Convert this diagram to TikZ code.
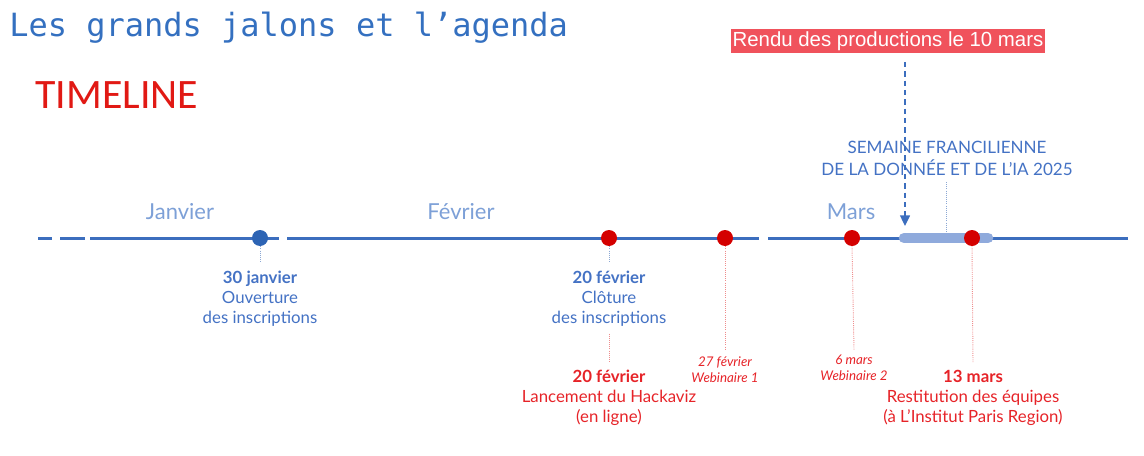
\documentclass[tikz,border=0pt]{standalone}
\usepackage{fontspec}
\setmainfont{Lato}
\newfontfamily\monofont{DejaVu Sans Mono}
\newfontfamily\calfont{Carlito}
\newfontfamily\arialfont{Liberation Sans}
\usetikzlibrary{arrows.meta}
\definecolor{titleblue}{RGB}{52,112,192}
\definecolor{tlred}{RGB}{225,25,20}
\definecolor{lblblue}{RGB}{68,114,196}
\definecolor{monthblue}{RGB}{125,160,215}
\definecolor{txtred}{RGB}{230,35,40}
\definecolor{dotred}{RGB}{212,0,0}
\definecolor{dotblue}{RGB}{45,100,180}
\definecolor{linblue}{RGB}{60,110,190}
\definecolor{barblue}{RGB}{143,170,220}
\definecolor{boxred}{RGB}{240,82,92}
\definecolor{dotlineblue}{RGB}{140,168,212}
\definecolor{dotlinered}{RGB}{238,140,140}
\begin{document}
\begin{tikzpicture}[x=0.75pt,y=-0.75pt,
  axis/.style={line width=2.25pt,color=linblue},
  reddot/.style={circle,fill=dotred,minimum size=12pt,inner sep=0pt},
  bluedot/.style={circle,fill=dotblue,minimum size=12pt,inner sep=0pt},
  month/.style={anchor=base,inner sep=0pt,text=monthblue,font=\fontsize{16.5}{20}\selectfont},
  bluelbl/.style={anchor=north,inner sep=0pt,align=center,text=lblblue,font=\fontsize{12.6}{15}\selectfont},
  redlbl/.style={anchor=north,inner sep=0pt,align=center,text=txtred,font=\fontsize{12.6}{15}\selectfont},
  smalllbl/.style={anchor=north,inner sep=0pt,align=center,text=txtred,font=\itshape\fontsize{10}{11.8}\selectfont},
  bluetick/.style={dotlineblue,line width=0.7pt,dash pattern=on 0.7pt off 0.9pt},
  redtick/.style={dotlinered,line width=0.7pt,dash pattern=on 0.7pt off 0.9pt}
]
\useasboundingbox (0,0) rectangle (1144,456);

% titles
\node[anchor=base west,inner sep=0pt,text=titleblue,font=\monofont\fontsize{24}{28}\selectfont] (title) at (9,37) {Les grands jalons et l’agenda};
\node[anchor=base west,inner sep=0pt,text=tlred,font=\calfont\fontsize{31.4}{36}\selectfont] (timeline) at (35,109) {TIMELINE};

% timeline axis
\draw[axis] (38,238) -- (52,238);
\draw[axis] (60,238) -- (85,238);
\draw[axis] (90,238) -- (279,238);
\draw[axis] (287,238) -- (759,238);
\draw[axis] (768,238) -- (1128,238);

% semaine bar
\draw[line width=7.9pt,line cap=round,barblue] (904,238) -- (988,238);

% months
\node[month] (jan) at (180,219) {Janvier};
\node[month] (fev) at (461,219) {Février};
\node[month] (mar) at (851,219) {Mars};

% dots
\node[bluedot] (d1) at (260,238) {};
\node[reddot] (d2) at (609,238) {};
\node[reddot] (d3) at (725,238) {};
\node[reddot] (d4) at (852,238) {};
\node[reddot] (d5) at (972,238) {};

% labels
\node[bluelbl] (l1) at (260,271) {{\bfseries 30 janvier}\\Ouverture\\des inscriptions};
\node[bluelbl] (l2) at (609,271) {{\bfseries 20 février}\\Clôture\\des inscriptions};
\node[redlbl] (l2b) at (609,370) {{\bfseries 20 février}\\Lancement du Hackaviz\\(en ligne)};
\node[smalllbl] (l3) at (725,357) {27 février\\Webinaire 1};
\node[smalllbl] (l4) at (854,355) {6 mars\\Webinaire 2};
\node[redlbl] (l5) at (973,370) {{\bfseries 13 mars}\\Restitution des équipes\\(à L’Institut Paris Region)};

% ticks
\draw[bluetick] (d1.south) -- ([yshift=6pt]l1.north);
\draw[bluetick] (d2.south) -- ([yshift=6.5pt]l2.north);
\draw[redtick] ([yshift=-5pt]l2.south) -- ([yshift=6pt]l2b.north);
\draw[redtick] (d3.south) -- ([yshift=5pt]l3.north);
\draw[redtick] (d4.south) -- ([yshift=4pt]l4.north);
\draw[redtick] (d5.south) -- ([yshift=6pt]l5.north);

% semaine
\node[anchor=base,inner sep=0pt,align=center,text=lblblue,font=\fontsize{12.8}{16}\selectfont] (sem) at (947,175) {SEMAINE FRANCILIENNE\\DE LA DONNÉE ET DE L’IA 2025};
\coordinate (semtick) at (946,232);
\draw[bluetick] ([yshift=-5pt]sem.south -| semtick) -- (semtick);

% rendu box
\node[fill=boxred,text=white,font=\arialfont\fontsize{15.3}{18}\selectfont,inner xsep=1.2pt,inner ysep=0pt,minimum height=18pt] (rendu) at (888,41) {Rendu des productions le 10 mars};
\coordinate (arrtop) at (905,62);
\coordinate (arrend) at (905,226);
\draw[linblue,line width=1pt,dash pattern=on 4pt off 3pt,-{Triangle[width=7.5pt,length=8pt]}] (arrtop) -- (arrend);
\end{tikzpicture}
\end{document}
